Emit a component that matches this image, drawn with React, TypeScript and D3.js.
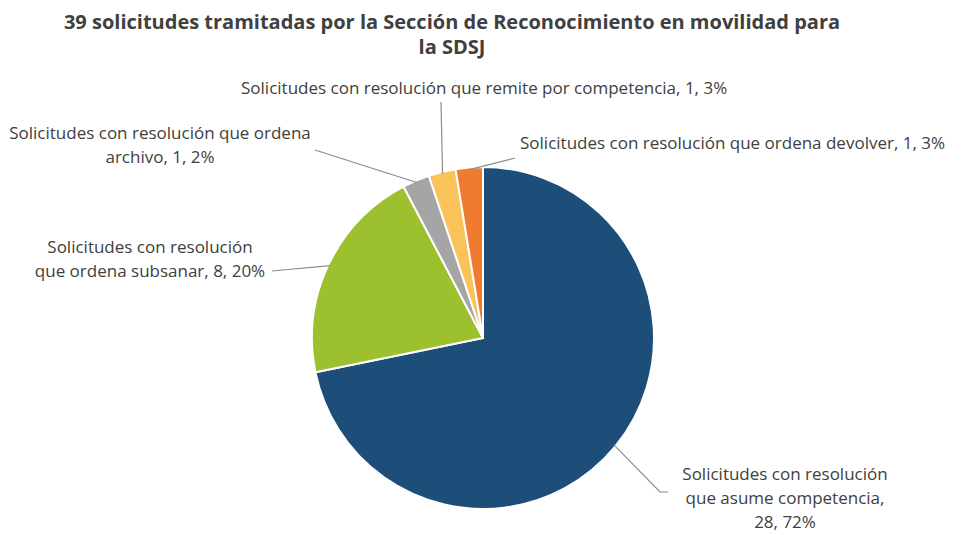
import React from "react";
import * as d3 from "d3";

const TITLE_LINES = [
  "39 solicitudes tramitadas por la Sección de Reconocimiento en movilidad para",
  "la SDSJ",
];
const categories = [
  "Solicitudes con resolución que asume competencia",
  "Solicitudes con resolución que ordena subsanar",
  "Solicitudes con resolución que ordena archivo",
  "Solicitudes con resolución que remite por competencia",
  "Solicitudes con resolución que ordena devolver",
];
const values = [28, 8, 1, 1, 1];
const percentLabels = ["72%", "20%", "2%", "3%", "3%"];
const labelLines = [
  ["Solicitudes con resolución", "que asume competencia,", "28, 72%"],
  ["Solicitudes con resolución", "que ordena subsanar, 8, 20%"],
  ["Solicitudes con resolución que ordena", "archivo, 1, 2%"],
  ["Solicitudes con resolución que remite por competencia, 1, 3%"],
  ["Solicitudes con resolución que ordena devolver, 1, 3%"],
];
const colors = ["#1D4E79", "#9DC02E", "#A5A5A5", "#FAC35A", "#EE7B2F"];

// layout (positions are layout, not data)
const W = 961, H = 535;
const CX = 483, CY = 338, R = 171;
const labelLayout = [
  { x: 785, y: 480, anchor: "middle", leader: [[660, 492], [668, 492]] },
  { x: 150, y: 253, anchor: "middle", leader: [[272, 271], [272, 271]] },
  { x: 160, y: 139, anchor: "middle", leader: [[315, 150], [315, 150]] },
  { x: 241, y: 94, anchor: "start", leader: [[441, 102], [441, 102]] },
  { x: 520, y: 149, anchor: "start", leader: [[515, 158], [515, 158]] },
];

export default function App() {
  const data = values.map((v, i) => ({ v, i, name: categories[i], pct: percentLabels[i] }));
  const pie = d3.pie<any>().value((d) => d.v).sort(null).startAngle(0).endAngle(2 * Math.PI);
  const arcs = pie(data);
  const arc = d3.arc<any>().innerRadius(0).outerRadius(R);
  const edgePoint = (a: any, r: number) => {
    const ang = (a.startAngle + a.endAngle) / 2;
    return [CX + r * Math.sin(ang), CY - r * Math.cos(ang)];
  };
  const lineGen = d3.line();
  return (
    <svg width={W} height={H} style={{ position: "absolute", left: 0, top: 0, background: "#fff" }}
      fontFamily="'Open Sans', sans-serif">
      <g fill="#404040" fontWeight="bold" fontSize={20} textAnchor="middle">
        {TITLE_LINES.map((t, i) => (
          <text key={i} x={452} y={29 + i * 25}>{t}</text>
        ))}
      </g>
      <g transform={`translate(${CX},${CY})`}>
        {arcs.map((a, i) => (
          <path key={i} d={arc(a) as string} fill={colors[i]} stroke="#fff" strokeWidth={2} />
        ))}
      </g>
      <g stroke="#8c8c8c" strokeWidth={1.2} fill="none">
        {arcs.map((a, i) => {
          const p0 = edgePoint(a, R - 2);
          const pts = [p0, ...labelLayout[i].leader] as [number, number][];
          return <path key={i} d={lineGen(pts) as string} />;
        })}
      </g>
      <g fill="#404040" fontSize={17}>
        {labelLines.map((lines, i) => (
          <text key={i} textAnchor={labelLayout[i].anchor as any}>
            {lines.map((l, j) => (
              <tspan key={j} x={labelLayout[i].x} y={labelLayout[i].y + j * 24}>{l}</tspan>
            ))}
          </text>
        ))}
      </g>
    </svg>
  );
}
